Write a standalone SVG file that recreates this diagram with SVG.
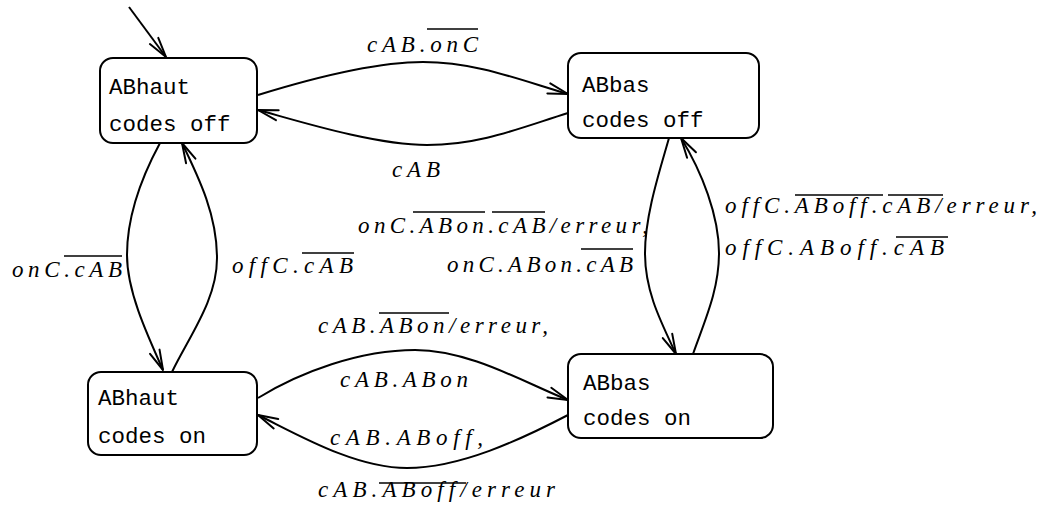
<svg xmlns="http://www.w3.org/2000/svg" width="1051" height="514" viewBox="0 0 1051 514">
<defs>
<style>
.node rect{fill:#fff;stroke:#000;stroke-width:2}
.node text{font-family:"Liberation Mono","DejaVu Sans Mono",monospace;font-size:22.5px;fill:#000}
.edges path,.edges line{fill:none;stroke:#000;stroke-width:2}
.lbl{font-family:"Liberation Serif","DejaVu Serif",serif;font-style:italic;font-size:23px;fill:#000}
.ov{stroke:#000;stroke-width:1.6}
</style>
<marker id="arr" viewBox="0 0 24 14" refX="22" refY="7" markerWidth="24" markerHeight="14" markerUnits="userSpaceOnUse" orient="auto" overflow="visible">
<path d="M2,1.8 L22,7 L2,12.2" fill="none" stroke="#000" stroke-width="2" stroke-linejoin="round" stroke-linecap="round"/>
</marker>
</defs>
<rect width="1051" height="514" fill="#fff"/>

<g id="connectors" class="edges">
<line x1="129" y1="7" x2="166" y2="57" marker-end="url(#arr)"/>
<path d="M258,95 C300,82 370,62 423,62 S520,80 568,94" marker-end="url(#arr)"/>
<path d="M568,113 C520,128 480,145 427,145 S295,120 258,110" marker-end="url(#arr)"/>
<path d="M160,143 C140,180 127,220 127,255 S145,330 163,370" marker-end="url(#arr)"/>
<path d="M172,372 C190,335 217,300 217,258 S200,180 182,143" marker-end="url(#arr)"/>
<path d="M669,138 C660,170 645,215 645,253 S660,320 676,354" marker-end="url(#arr)"/>
<path d="M693,354 C705,320 719,290 719,253 S702,172 681,138" marker-end="url(#arr)"/>
<path d="M258,398 C300,372 360,350 415,350 S525,383 568,400" marker-end="url(#arr)"/>
<path d="M568,415 C520,440 460,468 407,468 S295,433 258,415" marker-end="url(#arr)"/>
</g>

<g id="labels">
<text class="lbl" x="367" y="52" textLength="111" lengthAdjust="spacing">cAB.onC</text>
<line class="ov" x1="427" y1="29" x2="478" y2="29"/>
<text class="lbl" x="392" y="177" textLength="48" lengthAdjust="spacing">cAB</text>
<text class="lbl" x="12" y="277" textLength="110" lengthAdjust="spacing">onC.cAB</text>
<line class="ov" x1="64" y1="256" x2="122" y2="256"/>
<text class="lbl" x="232" y="273" textLength="121" lengthAdjust="spacing">offC.cAB</text>
<line class="ov" x1="302" y1="253" x2="354" y2="253"/>
<text class="lbl" x="358" y="233" textLength="290" lengthAdjust="spacing">onC.ABon.cAB/erreur,</text>
<line class="ov" x1="413" y1="212" x2="485" y2="212"/>
<line class="ov" x1="492" y1="212" x2="545" y2="212"/>
<text class="lbl" x="447" y="272" textLength="186" lengthAdjust="spacing">onC.ABon.cAB</text>
<line class="ov" x1="581" y1="249" x2="633" y2="249"/>
<text class="lbl" x="725" y="213" textLength="312" lengthAdjust="spacing">offC.ABoff.cAB/erreur,</text>
<line class="ov" x1="795" y1="195" x2="883" y2="195"/>
<line class="ov" x1="888" y1="195" x2="943" y2="195"/>
<text class="lbl" x="725" y="255" textLength="219" lengthAdjust="spacing">offC.ABoff.cAB</text>
<line class="ov" x1="896" y1="237" x2="948" y2="237"/>
<text class="lbl" x="318" y="333" textLength="230" lengthAdjust="spacing">cAB.ABon/erreur,</text>
<line class="ov" x1="379" y1="313" x2="449" y2="313"/>
<text class="lbl" x="340" y="387" textLength="128" lengthAdjust="spacing">cAB.ABon</text>
<text class="lbl" x="330" y="445" textLength="153" lengthAdjust="spacing">cAB.ABoff,</text>
<text class="lbl" x="318" y="497" textLength="237" lengthAdjust="spacing">cAB.ABoff/erreur</text>
<line class="ov" x1="379" y1="483" x2="466" y2="483"/>
</g>

<g id="n-abhaut-off" class="node">
<rect x="100" y="58" width="157" height="85" rx="13"/>
<text x="109" y="94">ABhaut</text>
<text x="109" y="131">codes off</text>
</g>
<g id="n-abbas-off" class="node">
<rect x="568" y="53" width="191" height="85" rx="13"/>
<text x="582" y="92">ABbas</text>
<text x="582" y="127">codes off</text>
</g>
<g id="n-abhaut-on" class="node">
<rect x="88" y="372" width="169" height="83" rx="13"/>
<text x="98" y="405">ABhaut</text>
<text x="98" y="443">codes on</text>
</g>
<g id="n-abbas-on" class="node">
<rect x="568" y="354" width="205" height="84" rx="13"/>
<text x="583" y="390">ABbas</text>
<text x="583" y="425">codes on</text>
</g>
</svg>
